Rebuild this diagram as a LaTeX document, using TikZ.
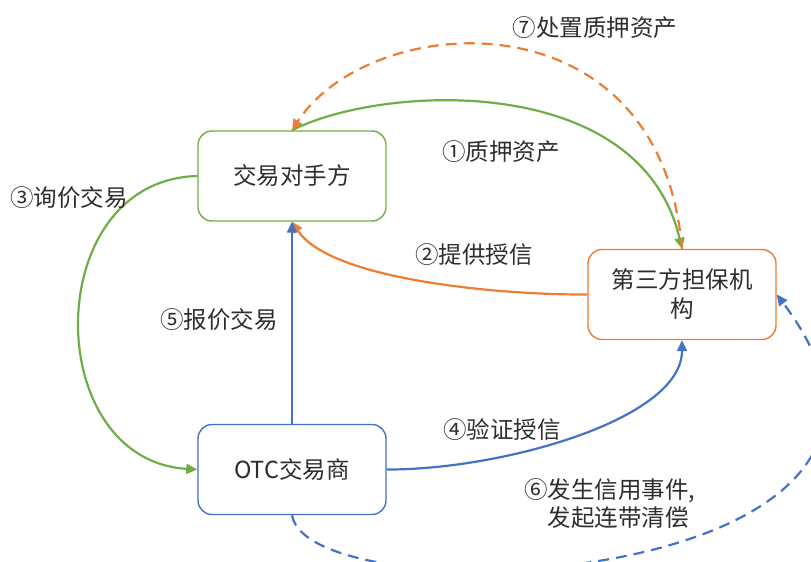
\documentclass[tikz,border=0pt]{standalone}
\usepackage{fontspec}
\setmainfont{Noto Sans CJK SC}
\usetikzlibrary{arrows.meta}
\definecolor{cgreen}{HTML}{70AD47}
\definecolor{corange}{HTML}{ED7D31}
\definecolor{cblue}{HTML}{4472C4}
\definecolor{ctext}{HTML}{2E2E2E}
\begin{document}
\begin{tikzpicture}[x=1pt,y=-1pt,
  box/.style={draw,rounded corners=14pt,line width=1.4pt,minimum width=188pt,minimum height=90pt,align=center,text=ctext,font=\fontsize{23.5}{29}\selectfont,fill=white},
  lbl/.style={text=ctext,font=\fontsize{23.5}{27.5}\selectfont,inner sep=0pt},
  conn/.style={line width=2.2pt,-{Triangle[length=11pt,width=10pt]}},
  dsh/.style={dash pattern=on 11pt off 7pt}]
\useasboundingbox (0,0) rectangle (811,562);
\node[box,draw=cgreen] (A) at (292,176) {交易对手方};
\node[box,draw=corange] (B) at (682,294.5) {第三方担保机\\构};
\node[box,draw=cblue] (C) at (292,469.5) {OTC交易商};
% 1
\draw[conn,cgreen] (A.north) .. controls (380,85) and (640,70) .. (B.north);
% 7
\draw[conn,corange,dsh] (B.north) .. controls (660,-10) and (370,10) .. (A.north);
% 2
\draw[conn,corange] (B.west) .. controls (500,295) and (330,280) .. (A.south);
% 3
\draw[conn,cgreen] (A.west) .. controls (40,180) and (40,460) .. (C.west);
% 4
\draw[conn,cblue] (C.east) .. controls (500,470) and (682,420) .. (B.south);
% 5
\draw[conn,cblue] (C.north) -- (A.south);
% 6
\draw[conn,cblue,dsh] (C.south) .. controls (310,620) and (1000,590) .. (B.east);
% labels
\node[lbl] (l7) at (595,28) {⑦处置质押资产};
\node[lbl] (l1) at (501,152) {①质押资产};
\node[lbl] (l3) at (69,198) {③询价交易};
\node[lbl] (l2) at (474,255) {②提供授信};
\node[lbl] (l5) at (219,320) {⑤报价交易};
\node[lbl] (l4) at (502,430) {④验证授信};
\node[lbl,anchor=west,align=left] (l6) at (524,503.5) {⑥发生信用事件,\\\hphantom{⑥}发起连带清偿};
\end{tikzpicture}
\end{document}
